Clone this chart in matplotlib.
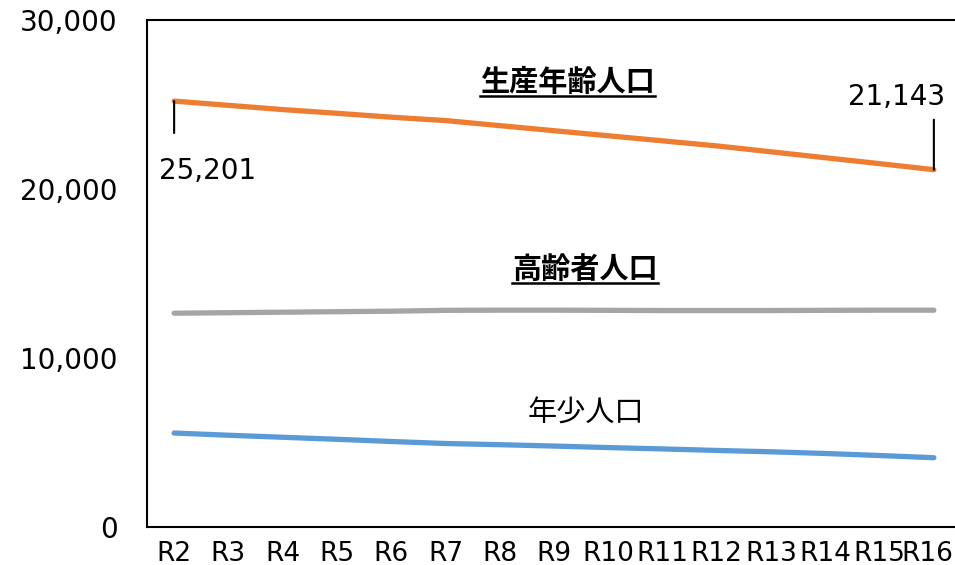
import matplotlib
matplotlib.use("Agg")
import matplotlib.pyplot as plt
from matplotlib.lines import Line2D
from matplotlib.transforms import ScaledTranslation

# Latin glyphs from DejaVu, Japanese falls through to Noto CJK
plt.rcParams["font.family"] = ["DejaVu Sans", "Noto Sans CJK JP"]

# ── data ────────────────────────────────────────────────────────────────
years = ["R2", "R3", "R4", "R5", "R6", "R7", "R8", "R9",
         "R10", "R11", "R12", "R13", "R14", "R15", "R16"]
working_age = [25201, 24950, 24700, 24480, 24250, 24050, 23750, 23450,
               23150, 22850, 22550, 22200, 21850, 21500, 21143]
elderly = [12650, 12680, 12710, 12740, 12770, 12820, 12830, 12830,
           12820, 12810, 12810, 12810, 12820, 12830, 12830]
youth = [5560, 5430, 5310, 5190, 5060, 4940, 4870, 4790,
         4700, 4620, 4530, 4450, 4350, 4230, 4100]
yticks = [0, 10000, 20000, 30000]

ORANGE = "#ED7D31"
GRAY = "#A5A5A5"
BLUE = "#5B9BD5"
FS = 20
FS_JP = 21

fig = plt.figure(figsize=(9.55, 5.65), dpi=100)
W, H = 955, 565
ax = fig.add_axes([147 / W, 38 / H, 814 / W, 507 / H])

x = list(range(len(years)))
lw = 3.8
ax.plot(x, working_age, color=ORANGE, lw=lw, solid_capstyle="round")
ax.plot(x, elderly, color=GRAY, lw=lw, solid_capstyle="round")
ax.plot(x, youth, color=BLUE, lw=lw, solid_capstyle="round")

ax.set_xlim(-0.5, len(years) - 0.5)
ax.set_ylim(0, 30000)
ax.set_xticks(x)
ax.set_xticklabels(years)
ax.set_yticks(yticks)
ax.set_yticklabels([f"{v:,}" for v in yticks])
ax.tick_params(axis="y", length=0, labelsize=FS, pad=21)
ax.tick_params(axis="x", length=0, labelsize=19, pad=10)
for s in ax.spines.values():
    s.set_linewidth(1.5)
    s.set_color("black")

# keep the last category label inside the canvas
last_lbl = ax.get_xticklabels()[-1]
last_lbl.set_transform(last_lbl.get_transform()
                       + ScaledTranslation(-7 / 100, 0, fig.dpi_scale_trans))

# ── end-point value labels with leader lines ────────────────────────────
first, last = 0, len(years) - 1
ax.annotate("", xy=(first, working_age[first]), xytext=(0, -23),
            textcoords="offset points",
            arrowprops=dict(arrowstyle="-", lw=1.5, color="black",
                            shrinkA=0, shrinkB=0))
ax.annotate(f"{working_age[first]:,}", xy=(first, working_age[first]),
            xytext=(24, -50), textcoords="offset points",
            ha="center", va="center", fontsize=FS)
ax.annotate("", xy=(last, working_age[last]), xytext=(0, 36),
            textcoords="offset points",
            arrowprops=dict(arrowstyle="-", lw=1.5, color="black",
                            shrinkA=0, shrinkB=0))
ax.annotate(f"{working_age[last]:,}", xy=(last, working_age[last]),
            xytext=(-27, 52), textcoords="offset points",
            ha="center", va="center", fontsize=FS)

# ── series names ────────────────────────────────────────────────────────
t1 = ax.text(7.25, 26270, "生産年齢人口", ha="center", va="center",
             fontsize=FS_JP, fontweight="bold")
t2 = ax.text(7.57, 15200, "高齢者人口", ha="center", va="center",
             fontsize=FS_JP, fontweight="bold")
ax.text(7.59, 6680, "年少人口", ha="center", va="center", fontsize=FS_JP)

# underline the bold names
fig.canvas.draw()
renderer = fig.canvas.get_renderer()
for t in (t1, t2):
    bb = t.get_window_extent(renderer)
    y = bb.y0 + 1.5
    fig.add_artist(Line2D([bb.x0, bb.x1], [y, y], color="black", lw=1.8,
                          transform=None))

fig.savefig("out.png", dpi=100)
